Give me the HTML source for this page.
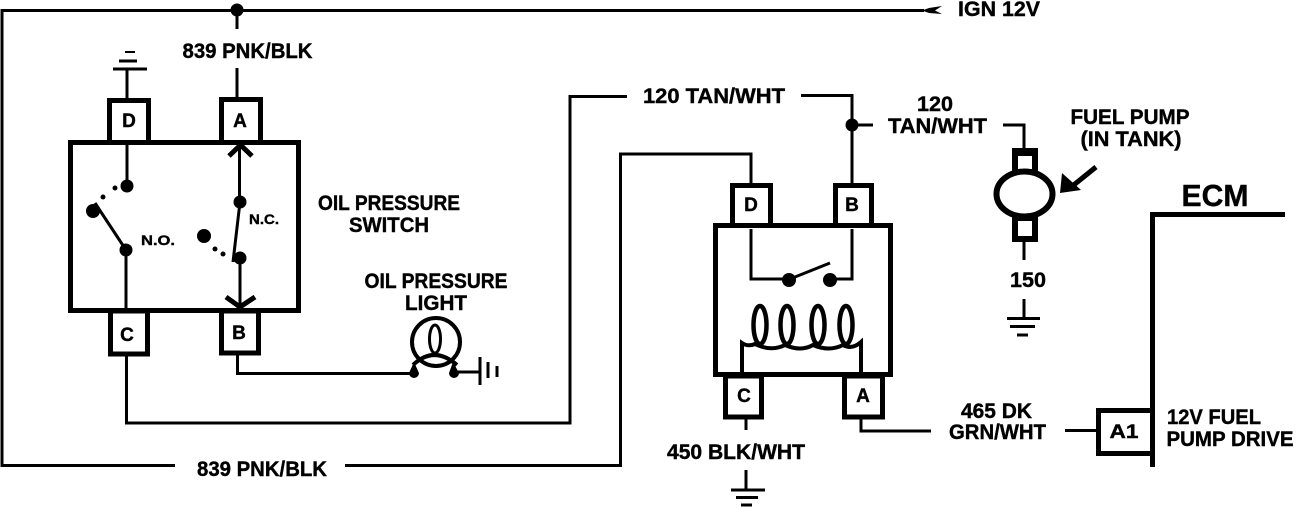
<!DOCTYPE html>
<html><head><meta charset="utf-8"><style>
html,body{margin:0;padding:0;background:#fff;width:1312px;height:508px;overflow:hidden}
svg{display:block}
text{font-family:"Liberation Sans",sans-serif;font-weight:700;fill:#000;stroke:#000;stroke-width:.4;text-anchor:middle}
</style></head><body>
<svg width="1312" height="508" viewBox="0 0 1312 508" xmlns="http://www.w3.org/2000/svg">
<rect width="1312" height="508" fill="#fff"/>
<g fill="none" stroke="#000" stroke-width="3">
<path d="M924 10.500H2V465.500H175"/>
<path d="M345 465.500H620.500V154H751V184"/>
<path d="M237 10V29M237 68V98"/>
<path d="M127 98V69"/>
<path d="M113 69H147"/><path d="M119 61H137"/><path d="M125 52H135" stroke-width="2"/>
<path d="M127 144V186"/><path d="M239.500 145V202M126 250V312"/>
<path d="M240 260V306"/>
<path d="M95 203L126 250"/><path d="M240 202L233 262"/>
<path d="M126.500 355V423H570V96.500H627"/>
<path d="M237.500 355V373.500H414"/>
<path d="M454 372H480M480 357V385M488 362V378M497 366V377"/>
<path d="M801 95.500H852V184"/>
<path d="M852 125H873"/>
<path d="M1003 125H1024V148"/>
<path d="M1024 242V260M1024 299V318"/>
<path d="M1007 318.500H1040"/><path d="M1010 326.500H1035"/><path d="M1017 335H1028"/>
<path d="M746 418V430M746 470V490M731 490H765M736 497.500H758M741 505H752"/>
<path d="M861 418V431H931M1065 430.500H1097"/>
<path d="M751 229V279H787M852 229V279H830"/>
<path d="M790 279L830 263"/>
</g>
<g fill="none" stroke="#000" stroke-width="5">
<rect x="70.500" y="142.500" width="228" height="168"/>
<rect x="109.500" y="100.500" width="39" height="42" fill="#fff"/>
<rect x="221.500" y="99.500" width="39" height="43" fill="#fff"/>
<rect x="110.500" y="311" width="37" height="43" fill="#fff"/>
<rect x="221.500" y="311" width="37" height="42" fill="#fff"/>
<path d="M229 156L240.500 145L252 156"/>
<path d="M226 297L240 307L255 297"/>
<rect x="715.500" y="225.500" width="175" height="149"/>
<rect x="732.500" y="185.500" width="38" height="40" fill="#fff"/>
<rect x="835.500" y="185.500" width="36" height="40" fill="#fff"/>
<rect x="725.500" y="376" width="36" height="41" fill="#fff"/>
<rect x="844.500" y="376" width="38" height="41" fill="#fff"/>
<path d="M1015 151H1035V172H1015Z M1015 218H1035V239H1015Z" stroke-width="6" fill="#fff"/>
<path d="M1012 152H1038" stroke-width="8"/>
<ellipse cx="1024.500" cy="194" rx="28" ry="22.500" fill="#fff" stroke-width="6"/>
<path d="M1285 214.500H1152.500V467"/>
<rect x="1098.500" y="410.500" width="54" height="43" fill="#fff"/>
<circle cx="436" cy="342" r="24" stroke-width="4" fill="#fff"/>
</g>
<path d="M742 372V343Q748 347 755 344Q771 352 785 345Q801 352 813 345Q829 352 843 345Q852 350 861 342V372" fill="none" stroke="#000" stroke-width="4"/>
<g fill="none" stroke="#000" stroke-width="4.500">
<ellipse cx="760" cy="325" rx="6.500" ry="19"/><ellipse cx="787" cy="325" rx="6.500" ry="19"/><ellipse cx="818" cy="325" rx="6.500" ry="19"/><ellipse cx="846" cy="325" rx="6.500" ry="19"/>
<ellipse cx="435" cy="339" rx="5.500" ry="14" stroke-width="3"/>
<path d="M413 365Q434 345 457 365" stroke-width="4"/>
</g>
<path d="M1096 167L1070 188" stroke="#000" stroke-width="5" fill="none"/>
<path d="M1060 193L1062 173L1081 190Z" fill="#000"/>
<path d="M922 10.500L929 8L942 6L935 10.500L942 14L929 13Z" fill="#000"/>
<g fill="#000">
<circle cx="237" cy="10" r="6.500"/>
<circle cx="127" cy="186" r="6.500"/><circle cx="115" cy="188" r="2.500"/><circle cx="103" cy="197" r="2.500"/><circle cx="93" cy="211" r="7"/>
<circle cx="126" cy="250" r="6.500"/>
<circle cx="240" cy="202" r="6.500"/><circle cx="204" cy="236" r="7"/><circle cx="215" cy="249" r="2.500"/><circle cx="223" cy="254" r="2.500"/><circle cx="240" cy="258" r="6.500"/>
<circle cx="852" cy="125" r="6.500"/>
<circle cx="789" cy="280" r="7"/><circle cx="830" cy="280" r="7"/>
<path d="M409 373L414 362L419 373A5 5 0 0 1 409 373Z M449 373L453 362L459 373A5 5 0 0 1 449 373Z"/>
</g>
<g font-size="21">
<text x="247.500" y="58" textLength="130" lengthAdjust="spacingAndGlyphs">839 PNK/BLK</text>
<text x="714" y="103" textLength="142" lengthAdjust="spacingAndGlyphs">120 TAN/WHT</text>
<text x="262" y="476" textLength="130" lengthAdjust="spacingAndGlyphs">839 PNK/BLK</text>
<text x="736" y="459" textLength="138" lengthAdjust="spacingAndGlyphs">450 BLK/WHT</text>
<text x="935" y="111" textLength="36" lengthAdjust="spacingAndGlyphs">120</text>
<text x="937.500" y="133" textLength="99" lengthAdjust="spacingAndGlyphs">TAN/WHT</text>
<text x="1028" y="287" textLength="36" lengthAdjust="spacingAndGlyphs">150</text>
<text x="996.500" y="418" textLength="71" lengthAdjust="spacingAndGlyphs">465 DK</text>
<text x="997.500" y="439" textLength="97" lengthAdjust="spacingAndGlyphs">GRN/WHT</text>
<text x="999" y="16" textLength="82" lengthAdjust="spacingAndGlyphs">IGN 12V</text>
<text x="389" y="210" textLength="142" lengthAdjust="spacingAndGlyphs">OIL PRESSURE</text>
<text x="389" y="232" textLength="80" lengthAdjust="spacingAndGlyphs">SWITCH</text>
<text x="436" y="288" textLength="143" lengthAdjust="spacingAndGlyphs">OIL PRESSURE</text>
<text x="436" y="310" textLength="62" lengthAdjust="spacingAndGlyphs">LIGHT</text>
<text x="1130" y="124" textLength="119" lengthAdjust="spacingAndGlyphs">FUEL PUMP</text>
<text x="1131" y="146" textLength="101" lengthAdjust="spacingAndGlyphs">(IN TANK)</text>
<text x="1214" y="424" textLength="94" lengthAdjust="spacingAndGlyphs">12V FUEL</text>
<text x="1230" y="446" textLength="127" lengthAdjust="spacingAndGlyphs">PUMP DRIVE</text>
</g>
<text x="1215" y="206" font-size="31" textLength="67" lengthAdjust="spacingAndGlyphs">ECM</text>
<g font-size="19">
<text x="129" y="127">D</text><text x="240" y="127">A</text><text x="127" y="341">C</text><text x="239" y="339">B</text>
<text x="751" y="211">D</text><text x="852" y="211">B</text><text x="744" y="402">C</text><text x="863" y="402">A</text>
<text x="1124" y="438" textLength="29" lengthAdjust="spacingAndGlyphs">A1</text>
</g>
<text x="158" y="245" font-size="14" textLength="34" lengthAdjust="spacingAndGlyphs">N.O.</text>
<text x="264" y="224" font-size="14" textLength="30" lengthAdjust="spacingAndGlyphs">N.C.</text>
</svg>
</body></html>
